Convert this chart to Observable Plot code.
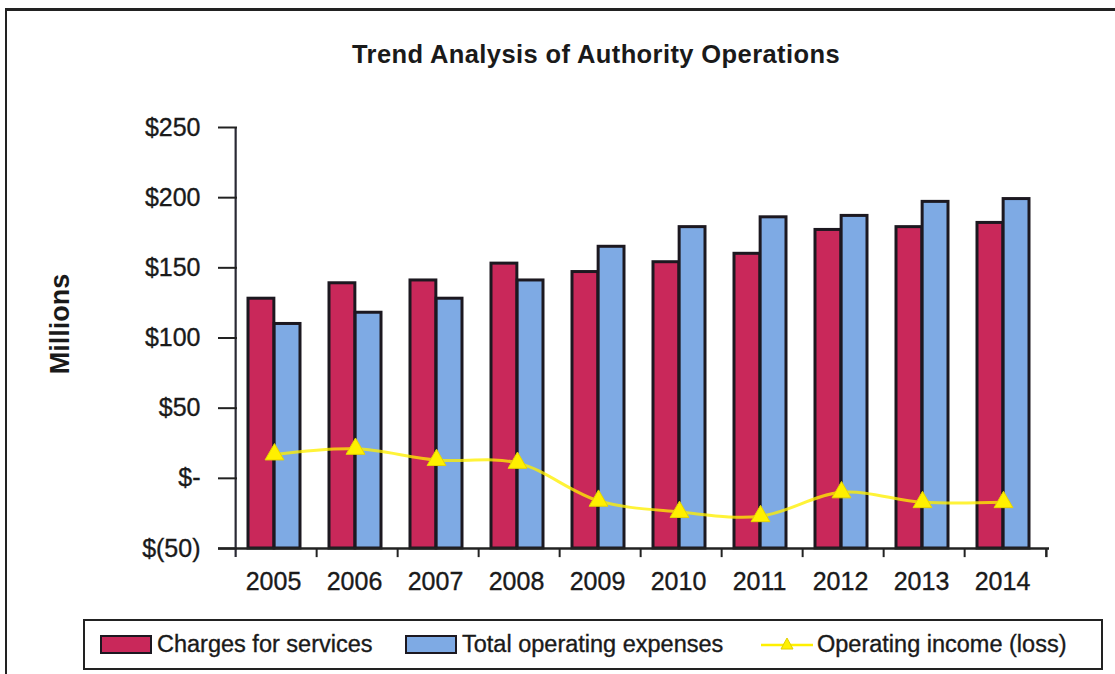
<!DOCTYPE html>
<html>
<head>
<meta charset="utf-8">
<script src="https://cdn.jsdelivr.net/npm/d3@7"></script>
<script src="https://cdn.jsdelivr.net/npm/@observablehq/plot@0.6"></script>
<style>
  html, body { margin: 0; padding: 0; background: #fff; }
  body { font-family: "Liberation Sans", Arial, Helvetica, sans-serif; color: #1a1a1a; }
  #wrap { position: relative; width: 1115px; height: 674px; overflow: hidden; background: #fff; }
  #frame { position: absolute; left: 5px; top: 8px; width: 1115px; height: 680px;
           border-left: 2.5px solid #222; border-top: 3px solid #222; box-sizing: border-box; }
  #title { position: absolute; left: 0; width: 1192px; top: 40px; text-align: center;
           font-weight: bold; font-size: 25.5px; letter-spacing: 0.4px; }
  #ylabel { position: absolute; left: 60px; top: 324px; transform: translate(-50%, -50%) rotate(-90deg);
            font-weight: bold; font-size: 27px; white-space: nowrap; }
  #chart { position: absolute; left: 0; top: 0; }
  #chart text { stroke: #1a1a1a; stroke-width: 0.35px; }
  #legend { position: absolute; left: 83px; top: 619px; width: 1020px; height: 51px;
            border: 2.5px solid #222; box-sizing: border-box; font-size: 23.5px;
            -webkit-text-stroke: 0.35px #1a1a1a; }
  .item { position: absolute; top: 0; height: 100%; display: flex; align-items: center; white-space: nowrap; }
  .sw { display: inline-block; width: 48px; height: 15px; border: 2.5px solid #1c1820; margin-right: 5px; }
</style>
</head>
<body>
<div id="wrap">
  <div id="frame"></div>
  <div id="title"></div>
  <div id="ylabel"></div>
  <div id="chart"></div>
  <div id="legend"></div>
</div>
<script>
// ---- data ----
const title = "Trend Analysis of Authority Operations";
const yAxisLabel = "Millions";
const years = ["2005","2006","2007","2008","2009","2010","2011","2012","2013","2014"];
const charges  = [128, 139, 141, 153, 147, 154, 160, 177, 179, 182];
const expenses = [110, 118, 128, 141, 165, 179, 186, 187, 197, 199];
const income   = [17, 21, 13, 11, -16, -24, -27, -10, -17, -17];
const yTicks = [-50, 0, 50, 100, 150, 200, 250];
const yTickLabels = ["$(50)", "$-", "$50", "$100", "$150", "$200", "$250"];
const seriesNames = ["Charges for services", "Total operating expenses", "Operating income (loss)"];
const colors = { charges: "#c9285a", expenses: "#7eaae4", income: "#fff000", outline: "#1c1820" };

// ---- layout ----
const W = 1115, H = 600;
const mLeft = 232, mRight = 66, mTop = 127, mBottom = 52;
const step = (W - mLeft - mRight) / years.length;
const padInner = 0.36;
const bw = step * (1 - padInner);

const rows = years.map((y, i) => ({year: y, charges: charges[i], expenses: expenses[i], income: income[i]}));
const yMin = yTicks[0];
const tickLen = 6.5; // data units below axis (~9px)

const chart = Plot.plot({
  width: W, height: H,
  marginLeft: mLeft, marginRight: mRight, marginTop: mTop, marginBottom: mBottom,
  style: { fontFamily: '"Liberation Sans", Arial, sans-serif', color: "#1a1a1a", background: "transparent", overflow: "visible" },
  x: { domain: years, paddingInner: padInner, paddingOuter: padInner / 2, axis: null },
  y: { domain: [yTicks[0], yTicks[yTicks.length - 1]], axis: null },
  marks: [
    Plot.barY(rows, { x: "year", y1: () => yMin, y2: "charges", fill: colors.charges,
      stroke: colors.outline, strokeWidth: 3, insetRight: bw / 2, dx: -2 }),
    Plot.barY(rows, { x: "year", y1: () => yMin, y2: "expenses", fill: colors.expenses,
      stroke: colors.outline, strokeWidth: 3, insetLeft: bw / 2, dx: -2 }),
    // axes lines and boundary ticks
    Plot.ruleY([yMin], { stroke: "#222", strokeWidth: 2.5, insetLeft: -14 }),
    Plot.ruleX([years[0]], { x: d => d, dx: -step / 2, y1: yMin - tickLen, y2: yTicks[yTicks.length - 1], stroke: "#2a2a35", strokeWidth: 2.2 }),
    Plot.ruleX(years.slice(1), { x: d => d, dx: -step / 2, y1: yMin - tickLen, y2: yMin, stroke: "#222", strokeWidth: 2 }),
    Plot.ruleX([years[years.length - 1]], { x: d => d, dx: step / 2, y1: yMin - tickLen, y2: yMin, stroke: "#222", strokeWidth: 2.5 }),
    Plot.axisY({ ticks: yTicks, tickFormat: v => yTickLabels[yTicks.indexOf(v)], tickSize: 19, dx: 5,
      tickPadding: 18, fontSize: 25, strokeWidth: 2, stroke: "#222", label: null }),
    Plot.axisX({ tickSize: 0, tickPadding: 24, fontSize: 25, label: null, dx: -3 }),
    // operating income line
    Plot.line(rows, { x: "year", y: "income", stroke: colors.income, strokeWidth: 3,
      strokeOpacity: 0.78, curve: "catmull-rom", dx: -2 }),
    Plot.dot(rows, { x: "year", y: "income", symbol: "triangle", r: 7, fill: colors.income,
      stroke: "#e6d400", strokeWidth: 1, dx: -2 })
  ]
});
document.getElementById("chart").appendChild(chart);
document.getElementById("title").textContent = title;
document.getElementById("ylabel").textContent = yAxisLabel;

// ---- legend ----
const legend = document.getElementById("legend");
const items = [
  { left: 15, html: `<span class="sw" style="background:${colors.charges}"></span>${seriesNames[0]}` },
  { left: 320, html: `<span class="sw" style="background:${colors.expenses}"></span>${seriesNames[1]}` },
  { left: 675, html: `<svg width="54" height="20" style="margin-right:3px"><line x1="1" y1="10" x2="53" y2="10" stroke="${colors.income}" stroke-width="2.5"/><path d="M27,3 L33,14 L21,14 Z" fill="${colors.income}" stroke="#e0cf00"/></svg>${seriesNames[2]}` }
];
items.forEach(it => {
  const d = document.createElement("div");
  d.className = "item";
  d.style.left = it.left + "px";
  d.innerHTML = it.html;
  legend.appendChild(d);
});
</script>
</body>
</html>
